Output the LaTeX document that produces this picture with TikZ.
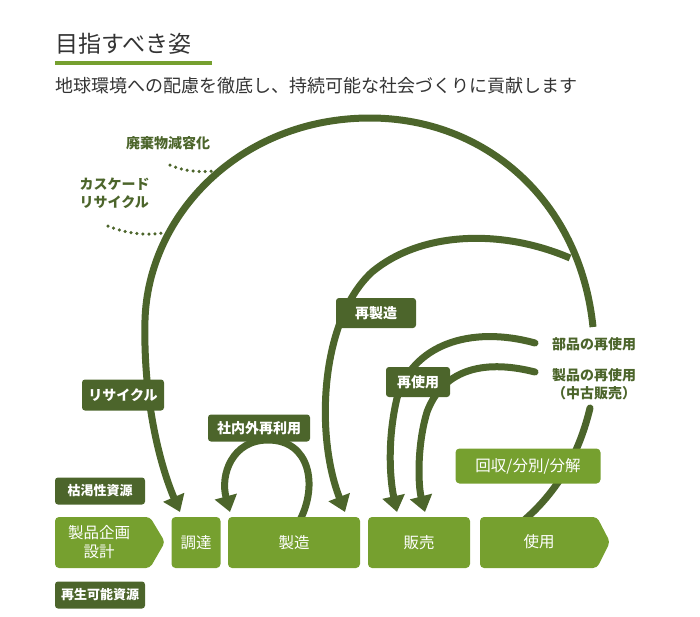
\documentclass[tikz,border=0pt]{standalone}
\usepackage{fontspec}
\setmainfont{Noto Sans CJK JP}
\usetikzlibrary{arrows.meta}
\definecolor{dk}{HTML}{4C652B}
\definecolor{lt}{HTML}{76A02F}
\definecolor{tx}{HTML}{333333}
\tikzset{
 flow/.style={draw=dk,line width=7pt},
 aflow/.style={flow,-{Triangle[length=16pt,width=22pt]}},
 dk box/.style={fill=dk,rounded corners=3pt,text=white,font=\bfseries\fontsize{14}{16}\selectfont,inner sep=0pt},
 lt box/.style={fill=lt,rounded corners=4pt,text=white,font=\fontsize{15.5}{18}\selectfont,inner sep=0pt},
 lbl/.style={text=dk,font=\bfseries\fontsize{14}{18}\selectfont,align=center},
 dots/.style={draw=dk,line width=3.5pt,line cap=round,dash pattern=on 0pt off 6pt},
}
\begin{document}
\begin{tikzpicture}[x=1pt,y=-1pt]
\useasboundingbox (0,0) rectangle (700,616);
% title
\node[anchor=west,text=tx,font=\fontsize{23}{26}\selectfont,inner sep=0pt] (title) at (55,44) {目指すべき姿};
\draw[lt,line width=3.5pt] (55,63) -- (212,63);
\node[anchor=west,text=tx,font=\fontsize{18}{21}\selectfont,inner sep=0pt] (sub) at (55,86) {地球環境への配慮を徹底し、持続可能な社会づくりに貢献します};
% flows
\coordinate (bigS) at (593,327);
\coordinate (lowS) at (590,408);
\coordinate (rmS) at (570,258);
\coordinate (r1S) at (535,343);
\coordinate (r2S) at (535,372);
\coordinate (useT) at (522,522);
\coordinate (chT) at (180,512);
\coordinate (mfT) at (345,512);
\coordinate (sl1T) at (397,512);
\coordinate (sl2T) at (425,512);
\coordinate (loopS) at (300,520);
\coordinate (loopT) at (230,512);
\draw[flow,line cap=round] (lowS) .. controls (580,450) and (560,490) .. (useT);
\draw[aflow] (bigS) .. controls (580,200) and (485,118) .. (370,118) .. controls (240,118) and (148,215) .. (145,320) .. controls (143,400) and (160,465) .. (chT);
\draw[aflow] (rmS) .. controls (500,228) and (420,232) .. (372,272) .. controls (320,320) and (315,435) .. (mfT);
\draw[aflow,line cap=round] (r1S) .. controls (470,325) and (412,345) .. (397,398) .. controls (387,440) and (390,480) .. (sl1T);
\draw[aflow,line cap=round] (r2S) .. controls (480,358) and (442,372) .. (427,412) .. controls (417,445) and (418,485) .. (sl2T);
\draw[aflow] (loopS) .. controls (318,485) and (310,440) .. (268,440) .. controls (232,440) and (220,475) .. (loopT);
% dotted
\draw[dots] (170,165) .. controls (185,172) and (205,173) .. (222,170);
\draw[dots] (108,226) .. controls (125,233) and (145,236) .. (162,233);
% labels
\node[lbl] (haiki) at (168,143) {廃棄物減容化};
\node[lbl,align=left,anchor=west] (cas) at (76,193) {カスケード\\リサイクル};
\node[lbl] (buhin) at (594,344) {部品の再使用};
\node[lbl] (seihin) at (594,384) {製品の再使用\\（中古販売）};
% dark boxes
\node[dk box,minimum width=82pt,minimum height=31pt] (recy) at (123,395) {リサイクル};
\node[dk box,minimum width=80pt,minimum height=30pt] (saisei) at (376,313) {再製造};
\node[dk box,minimum width=64pt,minimum height=30pt] (saishi) at (418,382) {再使用};
\node[dk box,minimum width=102pt,minimum height=27pt] (sha) at (259,428) {社内外再利用};
\node[dk box,minimum width=90pt,minimum height=27pt,font=\bfseries\fontsize{13}{15}\selectfont] (kokatsu) at (100,491) {枯渇性資源};
\node[dk box,minimum width=90pt,minimum height=27pt,font=\bfseries\fontsize{13}{15}\selectfont] (saiseikano) at (100,595) {再生可能資源};
\node[lt box,minimum width=145pt,minimum height=35pt] (kaishu) at (528,466) {回収/分別/分解};
% process row
\fill[lt,rounded corners=4pt] (55,517) -- (150,517) -- (165,542) -- (150,568) -- (55,568) -- cycle;
\node[text=white,font=\fontsize{15.5}{19}\selectfont,align=center] (kikaku) at (99,542) {製品企画\\設計};
\node[lt box,minimum width=49pt,minimum height=51pt] (chotatsu) at (196,542.5) {調達};
\node[lt box,minimum width=132pt,minimum height=51pt] (seizo) at (294,542.5) {製造};
\node[lt box,minimum width=102pt,minimum height=51pt] (hanbai) at (419,542.5) {販売};
\fill[lt,rounded corners=4pt] (480,517) -- (597,517) -- (610,542) -- (597,568) -- (480,568) -- cycle;
\node[text=white,font=\fontsize{15.5}{18}\selectfont] (shiyo) at (539,542) {使用};
\end{tikzpicture}
\end{document}
